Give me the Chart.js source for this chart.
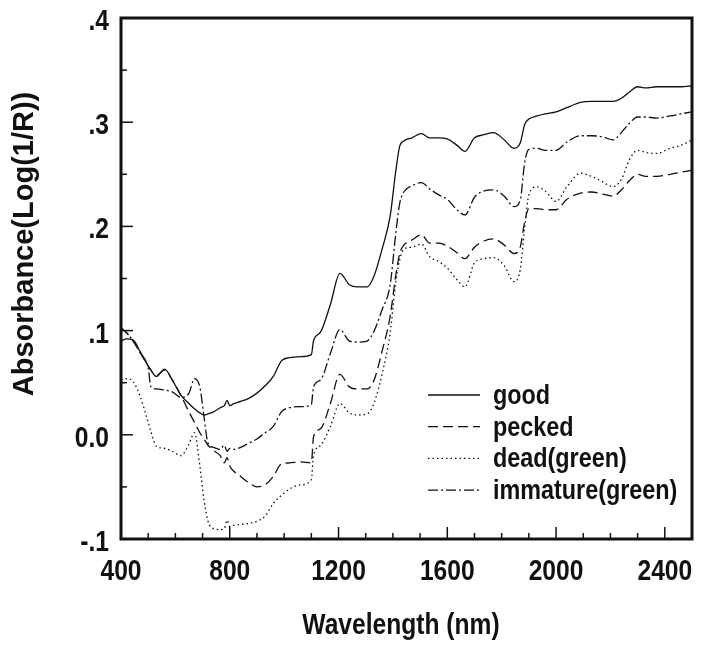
<!DOCTYPE html>
<html>
<head>
<meta charset="utf-8">
<script src="https://cdn.jsdelivr.net/npm/chart.js@4.4.0/dist/chart.umd.min.js"></script>
<style>
  html, body { margin: 0; padding: 0; background: #fff; }
  canvas { display: block; }
</style>
</head>
<body>
<canvas id="spectra" width="702" height="647"></canvas>
<script>
// NIR spectra
const wavelengthNm = [
  400, 420, 445, 470, 500, 510, 530, 560, 590, 620,
  650, 670, 690, 705, 720, 740, 765, 780, 790, 800,
  815, 840, 870, 900, 930, 960, 990, 1020, 1060, 1100,
  1108, 1135, 1170, 1205, 1240, 1270, 1305, 1330, 1360, 1390,
  1410, 1425, 1440, 1470, 1505, 1535, 1570, 1600, 1635, 1665,
  1700, 1735, 1770, 1810, 1845, 1868, 1885, 1900, 1930, 1960,
  2000, 2040, 2090, 2130, 2170, 2210, 2240, 2270, 2300, 2330,
  2370, 2420, 2460, 2500
];

const absGood = [
  .090, .092, .091, .080, .066, .062, .056, .063, .052, .038,
  .030, .025, .021, .019, .020, .022, .026, .028, .033, .028,
  .030, .032, .035, .040, .047, .056, .071, .074, .075, .077,
  .090, .099, .125, .155, .144, .142, .142, .152, .178, .210,
  .252, .277, .282, .285, .289, .285, .285, .284, .278, .272,
  .285, .288, .290, .283, .275, .280, .298, .303, .306, .308,
  .310, .314, .319, .320, .320, .320, .323, .329, .334, .333,
  .334, .334, .334, .335
];

const absPecked = [
  .102, .098, .090, .079, .066, .062, .057, .062, .052, .038,
  .022, .012, .002, -.004, -.010, -.015, -.020, -.027, -.022, -.030,
  -.035, -.040, -.046, -.050, -.048, -.040, -.028, -.027, -.026, -.027,
  -.002, .006, .030, .058, .046, .044, .044, .052, .080, .114,
  .152, .174, .182, .187, .192, .184, .184, .181, .175, .169,
  .180, .186, .188, .182, .174, .180, .205, .217, .217, .216,
  .216, .226, .232, .233, .231, .229, .235, .244, .250, .248,
  .248, .250, .252, .254
];

const absDeadGreen = [
  .053, .054, .051, .037, .012, .003, -.011, -.013, -.016, -.020,
  -.009, .002, -.030, -.062, -.083, -.090, -.091, -.090, -.082, -.088,
  -.087, -.086, -.085, -.083, -.078, -.066, -.058, -.052, -.048, -.043,
  -.020, -.010, .008, .030, .021, .019, .020, .030, .058, .098,
  .145, .168, .178, .180, .183, .171, .166, .160, .149, .142,
  .165, .169, .170, .162, .147, .158, .200, .230, .238, .234,
  .224, .238, .251, .248, .243, .238, .245, .264, .273, .271,
  .270, .275, .278, .283
];

const absImmatureGreen = [
  .103, .098, .090, .079, .064, .046, .044, .043, .041, .036,
  .040, .054, .046, .018, -.008, -.012, -.014, -.010, -.016, -.013,
  -.014, -.012, -.008, -.004, .002, .008, .022, .026, .027, .029,
  .046, .053, .078, .101, .090, .089, .090, .099, .120, .144,
  .192, .222, .233, .239, .242, .236, .230, .226, .216, .211,
  .228, .234, .235, .229, .219, .225, .262, .274, .275, .273,
  .273, .281, .287, .287, .286, .283, .290, .299, .305, .305,
  .304, .306, .308, .310
];

const seriesLabels = ['good', 'pecked', 'dead(green)', 'immature(green)'];

const xTickValues = [400, 800, 1200, 1600, 2000, 2400];
const xTickLabels = ['400', '800', '1200', '1600', '2000', '2400'];
const yTickValues = [-0.1, 0, 0.1, 0.2, 0.3, 0.4];
const yTickLabels = ['-.1', '0.0', '.1', '.2', '.3', '.4'];

const xTitle = 'Wavelength (nm)';
const yTitle = 'Absorbance(Log(1/R))';

// ---- styling ----
const ink = '#111111';
const fontFamily = "'Liberation Sans', Arial, sans-serif";
const squeeze = 0.82;   // the scan is narrow, like Arial Narrow
const dashes = [[], [10, 5], [1.5, 3], [10, 3, 2, 3]];

const seriesValues = [absGood, absPecked, absDeadGreen, absImmatureGreen];

const datasets = seriesValues.map((vals, i) => ({
  label: seriesLabels[i],
  data: wavelengthNm.map((nm, k) => ({ x: nm, y: vals[k] })),
  borderColor: ink,
  borderWidth: 1.3,
  borderDash: dashes[i],
  pointRadius: 0,
  fill: false,
  cubicInterpolationMode: 'monotone'
}));

function narrowText(ctx, text, x, y, align) {
  ctx.save();
  ctx.translate(x, y);
  ctx.scale(squeeze, 1);
  ctx.textAlign = align;
  ctx.fillText(text, 0, 0);
  ctx.restore();
}

// frame, inward ticks, labels, titles and legend
const framePlugin = {
  id: 'frame',
  afterDatasetsDraw(chart) {
    const { ctx, chartArea: a, scales: { x, y } } = chart;
    ctx.save();
    ctx.strokeStyle = ink;
    ctx.fillStyle = ink;

    ctx.lineWidth = 1.5;
    for (let v = 400; v <= 2500; v += 100) {
      const px = x.getPixelForValue(v);
      const len = v % 400 === 0 ? 12 : 6;
      ctx.beginPath();
      ctx.moveTo(px, a.bottom);
      ctx.lineTo(px, a.bottom - len);
      ctx.stroke();
    }
    for (let i = -2; i <= 8; i++) {
      const py = y.getPixelForValue(i * 0.05);
      const len = i % 2 === 0 ? 12 : 6;
      ctx.beginPath();
      ctx.moveTo(a.left, py);
      ctx.lineTo(a.left + len, py);
      ctx.stroke();
    }

    ctx.lineWidth = 3;
    ctx.strokeRect(a.left, a.top, a.right - a.left, a.bottom - a.top);

    // tick labels
    ctx.font = 'bold 30px ' + fontFamily;
    ctx.textBaseline = 'alphabetic';
    xTickValues.forEach((v, k) => {
      narrowText(ctx, xTickLabels[k], x.getPixelForValue(v), a.bottom + 41, 'center');
    });
    yTickValues.forEach((v, k) => {
      narrowText(ctx, yTickLabels[k], a.left - 12, y.getPixelForValue(v) + 12, 'right');
    });

    // x axis title
    narrowText(ctx, xTitle, 401, 634, 'center');

    // y axis title
    ctx.save();
    ctx.translate(25, 244);
    ctx.rotate(-Math.PI / 2);
    ctx.font = 'bold 29px ' + fontFamily;
    ctx.textAlign = 'center';
    ctx.textBaseline = 'middle';
    ctx.fillText(yTitle, 0, 0);
    ctx.restore();

    // legend
    ctx.font = 'bold 28.5px ' + fontFamily;
    ctx.textBaseline = 'middle';
    chart.data.datasets.forEach((ds, i) => {
      const ly = a.top + 377 + i * 31.7;
      const lx = a.left + 307;
      ctx.lineWidth = 1.3;
      ctx.setLineDash(ds.borderDash);
      ctx.beginPath();
      ctx.moveTo(lx, ly);
      ctx.lineTo(lx + 52, ly);
      ctx.stroke();
      ctx.setLineDash([]);
      narrowText(ctx, ds.label, lx + 65, ly + 1, 'left');
    });
    ctx.restore();
  }
};

new Chart(document.getElementById('spectra'), {
  type: 'line',
  data: { datasets },
  options: {
    responsive: false,
    animation: false,
    layout: { padding: { top: 18, right: 10, left: 0, bottom: 0 } },
    plugins: {
      legend: { display: false },
      tooltip: { enabled: false }
    },
    scales: {
      x: {
        type: 'linear',
        min: 400,
        max: 2500,
        afterFit: s => { s.height = 108; },
        afterBuildTicks: s => { s.ticks = xTickValues.map(v => ({ value: v })); },
        grid: { display: false, drawTicks: false },
        border: { display: false },
        ticks: { display: false }
      },
      y: {
        type: 'linear',
        min: -0.1,
        max: 0.4,
        afterFit: s => { s.width = 121; },
        afterBuildTicks: s => { s.ticks = yTickValues.map(v => ({ value: v })); },
        grid: { display: false, drawTicks: false },
        border: { display: false },
        ticks: { display: false }
      }
    }
  },
  plugins: [framePlugin]
});
</script>
</body>
</html>
